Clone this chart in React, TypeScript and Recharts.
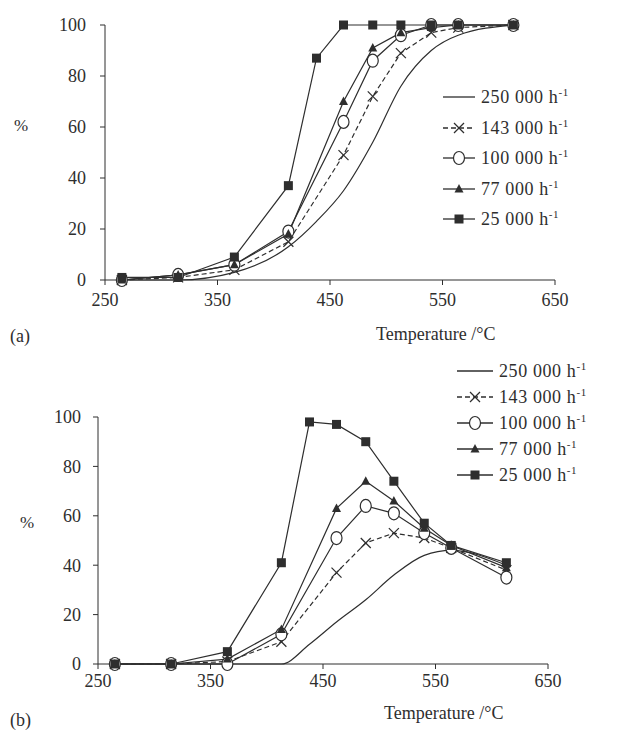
import React from 'react';
import { LineChart, Line, XAxis, YAxis } from 'recharts';

// temperatures of the measured points (°C), shared by both panels
const temps = [265, 315, 365, 413, 438, 462, 488, 513, 540, 564, 613];

const seriesNames = ['250 000', '143 000', '100 000', '77 000', '25 000'];
const xTicks = [250, 350, 450, 550, 650];
const yTicks = [0, 20, 40, 60, 80, 100];

// panel (a)
const a250 = [0, 0, 3, 13, 23, 35, 54, 76, 90, 96, 100];
const a143 = [0, 1, 4, 15, null, 49, 72, 89, 97, 99, 100];
const a100 = [0, 2, 6, 19, null, 62, 86, 96, 100, 100, 100];
const a77 = [0, 2, 6, 18, null, 70, 91, 97, 99, 100, 100];
const a25 = [1, 1, 9, 37, 87, 100, 100, 100, 100, 100, 100];

// panel (b)
const b250 = [0, 0, 0, 0, 8, 17, 26, 36, 44, 46, 40];
const b143 = [0, 0, 1, 9, null, 37, 49, 53, 51, 47, 38];
const b100 = [0, 0, 0, 12, null, 51, 64, 61, 53, 47, 35];
const b77 = [0, 0, 2, 14, null, 63, 74, 66, 55, 48, 39];
const b25 = [0, 0, 5, 41, 98, 97, 90, 74, 57, 48, 41];

const buildRows = (cols: (number | null)[][]) =>
  temps.map((t, i) => ({
    t,
    s250: cols[0][i],
    s143: cols[1][i],
    s100: cols[2][i],
    s77: cols[3][i],
    s25: cols[4][i],
  }));

const dataA = buildRows([a250, a143, a100, a77, a25]);
const dataB = buildRows([b250, b143, b100, b77, b25]);

const INK = '#2e2e2e';
const FONT = '"Liberation Serif", "DejaVu Serif", serif';

type Kind = 'none' | 'cross' | 'circle' | 'triangle' | 'square';

const styles: { key: string; kind: Kind; dash?: string; curve: 'linear' | 'monotone' }[] = [
  { key: 's250', kind: 'none', curve: 'monotone' },
  { key: 's143', kind: 'cross', dash: '5 3', curve: 'linear' },
  { key: 's100', kind: 'circle', curve: 'linear' },
  { key: 's77', kind: 'triangle', curve: 'linear' },
  { key: 's25', kind: 'square', curve: 'linear' },
];

const Marker = ({ cx, cy, kind }: { cx: number; cy: number; kind: Kind }) => {
  switch (kind) {
    case 'square':
      return <rect x={cx - 4.5} y={cy - 4.5} width={9} height={9} fill={INK} />;
    case 'triangle':
      return (
        <polygon
          points={`${cx},${cy - 5} ${cx - 4.5},${cy + 3.5} ${cx + 4.5},${cy + 3.5}`}
          fill={INK}
        />
      );
    case 'circle':
      return <ellipse cx={cx} cy={cy} rx={5.5} ry={6.5} fill="#fff" stroke={INK} strokeWidth={1.2} />;
    case 'cross':
      return (
        <g stroke={INK} strokeWidth={1.2}>
          <line x1={cx - 5} y1={cy - 5} x2={cx + 5} y2={cy + 5} />
          <line x1={cx - 5} y1={cy + 5} x2={cx + 5} y2={cy - 5} />
        </g>
      );
    default:
      return null;
  }
};

// legend drawn as an overlay so it doesn't eat into the plot area
const LegendBox = ({ left, top, rowGap, lineW }: { left: number; top: number; rowGap: number; lineW: number }) => (
  <div style={{ position: 'absolute', left, top, fontFamily: FONT, fontSize: 18, color: INK }}>
    {styles.map((s, i) => (
      <div key={s.key} style={{ display: 'flex', alignItems: 'center', height: rowGap, whiteSpace: 'nowrap' }}>
        <svg width={lineW} height={16} style={{ marginRight: 6 }}>
          <line x1={0} y1={8} x2={lineW} y2={8} stroke={INK} strokeWidth={1.3} strokeDasharray={s.dash} />
          <Marker cx={lineW / 2} cy={8} kind={s.kind} />
        </svg>
        <span style={{ letterSpacing: 0.6 }}>
          {seriesNames[i]} h<sup style={{ fontSize: 11 }}>-1</sup>
        </span>
      </div>
    ))}
  </div>
);

type PanelProps = {
  data: ReturnType<typeof buildRows>;
  top: number;
  height: number;
  margin: { top: number; right: number; bottom: number; left: number };
  yTickGap: number;
  xTickGap: number;
};

const Panel = (p: PanelProps) => (
  <div style={{ position: 'absolute', left: 0, top: p.top }}>
    <LineChart width={625} height={p.height} data={p.data} margin={p.margin}>
      <XAxis
        dataKey="t"
        type="number"
        domain={[250, 650]}
        ticks={xTicks}
        interval={0}
        stroke={INK}
        tickSize={5}
        tickMargin={p.xTickGap}
        height={30}
        tick={{ fill: INK, fontSize: 18, fontFamily: FONT }}
      />
      <YAxis
        domain={[0, 100]}
        ticks={yTicks}
        interval={0}
        stroke={INK}
        tickSize={5}
        tickMargin={p.yTickGap}
        width={50}
        tick={{ fill: INK, fontSize: 18, fontFamily: FONT }}
      />
      {styles.map((s, i) => (
        <Line
          key={s.key}
          dataKey={s.key}
          name={seriesNames[i]}
          type={s.curve}
          stroke={INK}
          strokeWidth={1.2}
          strokeDasharray={s.dash}
          connectNulls
          isAnimationActive={false}
          activeDot={false}
          dot={(d: any) =>
            d.value == null || d.cx == null || d.cy == null ? (
              <g key={`${s.key}-${d.index}`} />
            ) : (
              <g key={`${s.key}-${d.index}`}>
                <Marker cx={d.cx} cy={d.cy} kind={s.kind} />
              </g>
            )
          }
        />
      ))}
    </LineChart>
  </div>
);

const label = (text: React.ReactNode, left: number, top: number, size = 18) => (
  <div
    style={{
      position: 'absolute',
      left,
      top,
      fontFamily: FONT,
      fontSize: size,
      color: INK,
      whiteSpace: 'nowrap',
    }}
  >
    {text}
  </div>
);

export default function App() {
  return (
    <div
      style={{
        position: 'absolute',
        left: 0,
        top: 0,
        width: 625,
        height: 733,
        background: '#fff',
        overflow: 'hidden',
      }}
    >
      <Panel
        data={dataA}
        top={0}
        height={345}
        margin={{ top: 25, right: 70, bottom: 35, left: 55 }}
        yTickGap={14}
        xTickGap={8}
      />
      <Panel
        data={dataB}
        top={360}
        height={373}
        margin={{ top: 57, right: 77, bottom: 39, left: 48 }}
        yTickGap={12}
        xTickGap={5}
      />
      <LegendBox left={443} top={82} rowGap={30.5} lineW={32} />
      <LegendBox left={457} top={358} rowGap={26} lineW={36} />
      {label('%', 14, 116, 17)}
      {label('(a)', 10, 326)}
      {label('Temperature /°C', 376, 324)}
      {label('%', 20, 513, 17)}
      {label('(b)', 10, 710)}
      {label('Temperature /°C', 384, 703)}
    </div>
  );
}
